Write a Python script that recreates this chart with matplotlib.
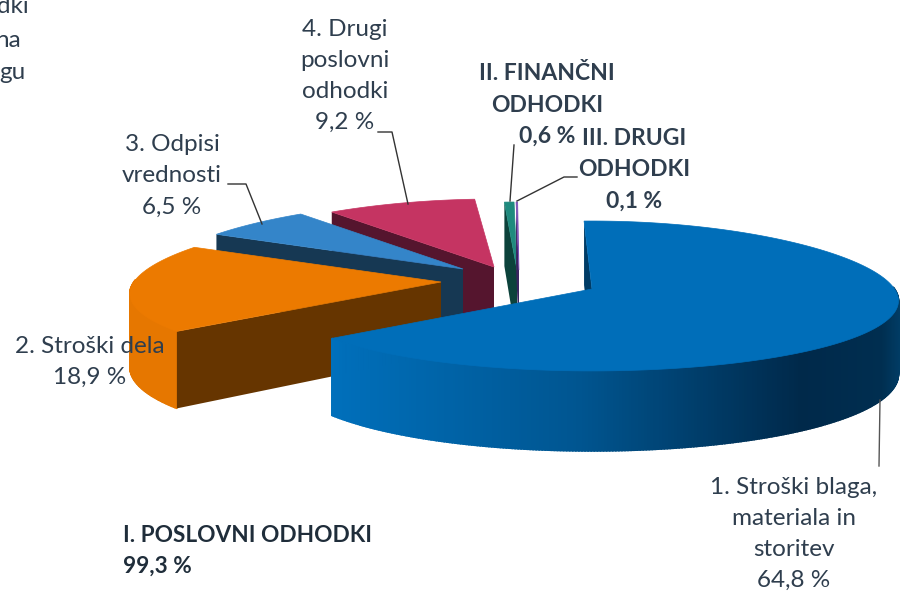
import numpy as np
import matplotlib
matplotlib.use('Agg')
import matplotlib.pyplot as plt

plt.rcParams['font.family'] = ['Lato', 'DejaVu Sans']

# chart values
categories = ['1. Stroški blaga,\nmateriala in\nstoritev', '2. Stroški dela', '3. Odpisi\nvrednosti',
              '4. Drugi\nposlovni\nodhodki', 'II. FINANČNI\nODHODKI', 'III. DRUGI\nODHODKI']
shares = [64.8, 18.9, 6.5, 9.2, 0.6, 0.1]
share_labels = ['64,8 %', '18,9 %', '6,5 %', '9,2 %', '0,6 %', '0,1 %']
total_label = 'I. POSLOVNI ODHODKI\n99,3 %'

# look of each slice: top colour, side colour, apex of the exploded slice, small turn, width
top_colors = ['#006EB9', '#EC7A00', '#3485C9', '#C53462', '#1F8A7E', '#7B4FB5']
side_colors = ['#003C66', '#663500', '#163853', '#55152E', '#0C423B', '#3A2560']
wall_colors = ['#006EB9', '#E67700', '#163853', '#55152E', '#0C423B', '#3A2560']
apexes = [(592, 289), (441, 282), (463, 269), (494, 267), (517, 270), (519, 270)]
turns = [0, 0, 0, 0, -1.5, -1.5]
widths = [0.985, 1, 1, 1, 1, 1]

TEXT = '#2F3E4E'
START = 91.8
RX, RY = 315.0, 74.3


def project(theta, apex, width=1.0):
    # flat perspective of a point on the pie rim
    u, v = np.cos(np.radians(theta)), np.sin(np.radians(theta))
    fx = 0.975 - 0.16 * v
    return apex[0] + RX * width * u * fx, apex[1] - RY * v / (1 + 0.093 * v)


def depth(theta):
    return 72 - 8 * np.sin(np.radians(theta))


def wall_color(x):
    # shading of the big slice's wall, left to right
    stops = [328, 580, 800, 880, 900]
    reds = [0, 0, 0, 0, 1]
    greens = [112, 85, 41, 46, 61]
    blues = [188, 144, 74, 80, 102]
    return (np.interp(x, stops, reds) / 255, np.interp(x, stops, greens) / 255, np.interp(x, stops, blues) / 255)


fig = plt.figure(figsize=(9.09, 5.91), dpi=100)
ax = fig.add_axes([0, 0, 1, 1])
ax.set_xlim(0, 909)
ax.set_ylim(591, 0)
ax.axis('off')

# slice angles, clockwise from the start
spans = np.array(shares) / sum(shares) * 360
starts = START - np.concatenate([[0], np.cumsum(spans)[:-1]])

# back slices first, big slice last
for i in [4, 5, 3, 2, 1, 0]:
    apex = apexes[i]
    first = starts[i] + turns[i]
    thetas = np.linspace(first, first - spans[i], max(int(spans[i] * 2), 3))
    xs, ys = project(thetas, apex, widths[i])

    # outer wall, only the part facing the viewer
    for a, b in zip(thetas[:-1], thetas[1:]):
        if np.sin(np.radians((a + b) / 2)) > 0.03:
            continue
        xa, ya = project(a, apex, widths[i])
        xb, yb = project(b, apex, widths[i])
        color = wall_color((xa + xb) / 2) if i == 0 else wall_colors[i]
        ax.fill([xa, xb, xb, xa], [ya, yb, yb + depth(b), ya + depth(a)], color=color, lw=1.2)

    # cut face towards the viewer
    edge = thetas[0]
    ex, ey = project(edge, apex, widths[i])
    ax.fill([apex[0], ex, ex, apex[0]], [apex[1], ey, ey + depth(edge), apex[1] + 72],
            color=side_colors[i], lw=0)

    ax.fill(np.r_[apex[0], xs], np.r_[apex[1], ys], color=top_colors[i], lw=0.5)

# leader lines
ax.plot([880, 879], [400, 466], color='#555555', lw=1)
ax.plot([228, 246, 262], [184, 184, 224], color='#333333', lw=1)
ax.plot([378, 392, 408], [132, 132, 204], color='#333333', lw=1)
ax.plot([514, 510], [145, 201], color='#333333', lw=1)
ax.plot([577, 564, 517], [177, 177, 201], color='#333333', lw=1)

# labels
label_pos = [(794, 534), (90, 362), (172, 176), (345, 76), (547, 105), (634, 170)]
for i, (x, y) in enumerate(label_pos):
    bold = i >= 4
    ax.text(x, y, categories[i] + '\n' + share_labels[i], ha='center', va='center',
            fontsize=16.5 if bold else 17.5, linespacing=1.62 if bold else 1.6,
            color=TEXT, fontweight='bold' if bold else 'normal')

ax.text(123, 551, total_label, ha='left', va='center', fontsize=16.3, linespacing=1.6,
        color='#1F2D3A', fontweight='bold')

# pieces of a label cut by the frame
ax.text(29, 13, 'dki', ha='right', va='baseline', fontsize=17.5, color=TEXT)
ax.text(21, 47, 'na', ha='right', va='baseline', fontsize=17.5, color=TEXT)
ax.text(25, 79, 'gu', ha='right', va='baseline', fontsize=17.5, color=TEXT)

fig.savefig('out.png', dpi=100)
